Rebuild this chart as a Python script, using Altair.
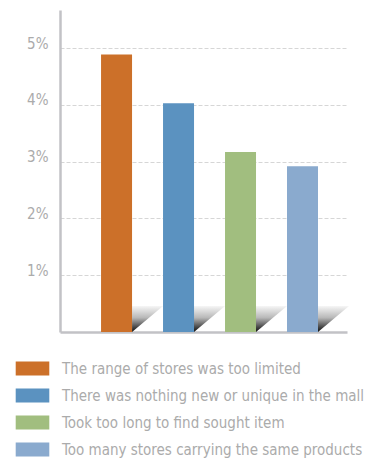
import altair as alt
import pandas as pd

categories = [
    "The range of stores was too limited",
    "There was nothing new or unique in the mall",
    "Took too long to find sought item",
    "Too many stores carrying the same products",
]
values = [4.89, 4.03, 3.17, 2.92]
colors = ["#CC7029", "#5B92C0", "#A1BE7F", "#8AAACE"]
y_ticks = [1, 2, 3, 4, 5]

df = pd.DataFrame({"reason": categories, "pct": values})

FONT = "Liberation Sans Narrow, DejaVu Sans Condensed, Roboto, sans-serif"
GRAY = "#ababab"
AXIS_GRAY = "#c2c2c6"

xscale = alt.Scale(domain=categories, paddingInner=0.5, paddingOuter=0.565, align=0.586)
yscale = alt.Scale(domain=[0, 5.674], nice=False, zero=True)

shadow_grad = alt.Gradient(
    gradient="linear",
    stops=[
        alt.GradientStop(offset=0, color="#f6f6f6"),
        alt.GradientStop(offset=0.45, color="#b8b8b8"),
        alt.GradientStop(offset=1, color="#0c0c0c"),
    ],
    x1=0, x2=0, y1=0, y2=1,
)

shadows = alt.Chart(df).mark_point(
    shape="M-1,-0.84L1,-0.84L-1,0.84Z",
    size=961,
    filled=True,
    fill=shadow_grad,
    opacity=1,
    strokeWidth=0,
    xOffset=31,
    yOffset=-13,
).encode(
    x=alt.X("reason:N", scale=xscale, sort=categories,
            axis=alt.Axis(labels=False, ticks=False, title=None, grid=False,
                          domainColor=AXIS_GRAY, domainWidth=2.5)),
    y=alt.datum(0, scale=yscale),
)

bars = alt.Chart(df).mark_bar(size=31).encode(
    x=alt.X("reason:N", scale=xscale, sort=categories),
    y=alt.Y("pct:Q", scale=yscale,
            axis=alt.Axis(values=y_ticks, labelExpr="datum.value + '%'",
                          ticks=False, title=None, grid=True,
                          gridColor="#d6d6d6", gridDash=[4, 2], gridWidth=1,
                          domainColor=AXIS_GRAY, domainWidth=2.5,
                          labelColor=GRAY, labelFontSize=15, labelFont=FONT,
                          labelPadding=12, labelOffset=-5)),
    color=alt.Color("reason:N",
                    scale=alt.Scale(domain=categories, range=colors),
                    legend=alt.Legend(
                        orient="none", legendX=-35, legendY=351,
                        title=None, padding=0,
                        symbolType="M-2.4,-1L2.4,-1L2.4,1L-2.4,1Z",
                        symbolSize=196, symbolStrokeWidth=0, symbolOpacity=1,
                        labelFont=FONT, labelFontSize=15, labelColor=GRAY,
                        labelOffset=22, rowPadding=11, labelLimit=400,
                        direction="vertical",
                    )),
)

chart = alt.layer(shadows, bars).resolve_scale(x="shared", y="shared").properties(
    width=287,
    height=322,
    autosize=alt.AutoSizeParams(type="none"),
    padding={"left": 52, "top": 2, "right": 20, "bottom": 126},
).configure_view(stroke=None).configure_axis(domainCap="butt")

chart.save("out.html", embed_options={"renderer": "svg", "actions": False})
